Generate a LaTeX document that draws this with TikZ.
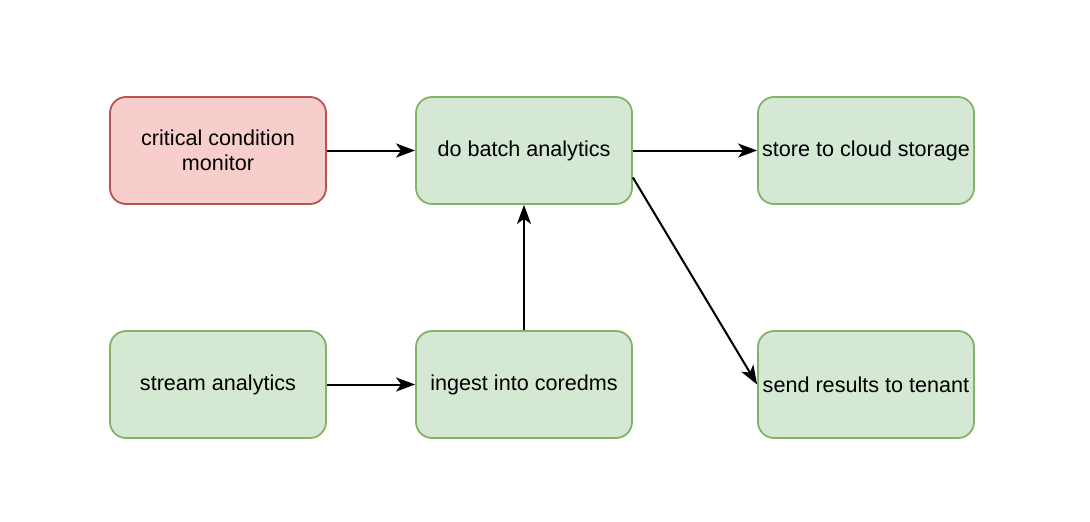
\documentclass[tikz,border=0pt]{standalone}
\usepackage{fontspec}
\setmainfont{Liberation Sans}
\usetikzlibrary{arrows.meta}
\definecolor{gfill}{HTML}{D5E8D4}
\definecolor{gline}{HTML}{82B366}
\definecolor{rfill}{HTML}{F8CECC}
\definecolor{rline}{HTML}{B85450}
\tikzset{
  box/.style={draw=gline, fill=gfill, line width=1.8pt, rounded corners=16pt,
    minimum width=216pt, minimum height=107pt, inner sep=2pt, align=center,
    font=\fontsize{21.6pt}{25pt}\selectfont},
  redbox/.style={box, draw=rline, fill=rfill},
  conn/.style={line width=2pt, -{Stealth[length=19pt, width=14pt, inset=5pt]}}
}
\begin{document}
\begin{tikzpicture}[x=1pt,y=-1pt]
\useasboundingbox (0,0) rectangle (1090,522);
\node[redbox] (crit) at (218,150.5) {critical condition\\monitor};
\node[box] (batch) at (524,150.5) {do batch analytics};
\node[box] (store) at (866,150.5) {store to cloud storage};
\node[box] (stream) at (218,384.5) {stream analytics};
\node[box] (ingest) at (524,384.5) {ingest into coredms};
\node[box] (send) at (866,384.5) {send results to tenant};
\draw[conn] (crit.east) -- (batch.west);
\draw[conn] (batch.east) -- (store.west);
\draw[conn] (stream.east) -- (ingest.west);
\draw[conn] (ingest.north) -- (batch.south);
\draw[conn] ([yshift=-27pt]batch.east) -- (send.west);
\end{tikzpicture}
\end{document}
